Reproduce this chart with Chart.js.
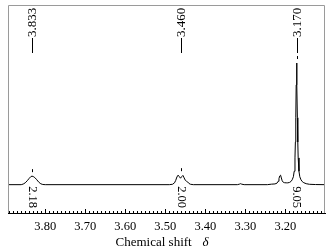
<!DOCTYPE html>
<html>
<head>
<meta charset="utf-8">
<script src="https://cdn.jsdelivr.net/npm/chart.js@4"></script>
<style>
  html, body { margin: 0; padding: 0; background: #fff; }
  #wrap { width: 332px; height: 251px; }
</style>
</head>
<body>
<div id="wrap"><canvas id="nmrChart" width="332" height="251"></canvas></div>
<script>
// spectrum (shift in ppm, intensity relative to main peak = 100)
const shifts = [
    3.893, 3.860, 3.855, 3.850, 3.845, 3.840, 3.836, 3.833, 3.830, 3.826, 3.821, 3.816, 3.811, 3.806, 3.800,
    3.490, 3.482, 3.477, 3.474, 3.471, 3.468, 3.465, 3.462, 3.459, 3.456, 3.453, 3.450, 3.447, 3.444, 3.441, 3.437, 3.430,
    3.320, 3.315, 3.312, 3.309, 3.303,
    3.245, 3.235, 3.226, 3.221, 3.218, 3.216, 3.214, 3.212, 3.210, 3.208, 3.205, 3.202, 3.198, 3.194,
    3.190, 3.186, 3.183, 3.180, 3.178, 3.176, 3.175, 3.174, 3.173, 3.172, 3.171, 3.170, 3.169, 3.168, 3.166,
    3.164, 3.161, 3.158, 3.154, 3.148, 3.140, 3.125, 3.101
];
const intensities = [
    0, 0, 0.5, 1.5, 3.2, 5.2, 6.6, 7, 6.7, 5.8, 4, 2, 0.7, 0.15, 0,
    0, 0.3, 1.5, 3.5, 6.3, 7.8, 6.6, 5.3, 6.6, 7.6, 5.6, 3.6, 2.8, 2.2, 1.0, 0.3, 0,
    0, 0.4, 0.8, 0.4, 0,
    0, 0.4, 0.6, 1.2, 2.8, 5, 7.2, 7.8, 5.5, 3.2, 1.9, 1.6, 1.5, 1.5,
    1.8, 2.6, 4, 6.5, 11, 22, 35, 55, 82, 100, 82, 55, 35, 22, 11,
    6.5, 4, 2.6, 1.6, 0.8, 0.3, 0.1, 0
];

// peak picking labels (top) and integrals (under the peaks)
const peakLabels = [3.833, 3.460, 3.170];
const peakTops = [7, 7.8, 100];
const integralAt = [3.833, 3.459, 3.172];
const integralValues = ['2.18', '2.00', '9.05'];

// x axis
const tickValues = [3.80, 3.70, 3.60, 3.50, 3.40, 3.30, 3.20];
const xMin = 3.101, xMax = 3.893;

const serif = '"Liberation Serif", "DejaVu Serif", serif';

const spectrumData = shifts.map((s, i) => ({ x: s, y: intensities[i] }));

const nmrDecor = {
    id: 'nmrDecor',
    afterDraw(chart) {
        const ctx = chart.ctx;
        const area = chart.chartArea;
        const xs = chart.scales.x;
        const ys = chart.scales.y;
        ctx.save();

        // grey frame left / top / right
        ctx.strokeStyle = '#9a9a9a';
        ctx.lineWidth = 1;
        ctx.beginPath();
        ctx.moveTo(area.left + 0.5, area.bottom);
        ctx.lineTo(area.left + 0.5, area.top + 0.5);
        ctx.lineTo(area.right - 0.5, area.top + 0.5);
        ctx.lineTo(area.right - 0.5, area.bottom);
        ctx.stroke();

        // inward ticks on the bottom axis
        ctx.strokeStyle = '#000';
        ctx.beginPath();
        for (let k = 311; k <= 389; k++) {
            const v = k / 100;
            const px = Math.round(xs.getPixelForValue(v)) + 0.5;
            const len = (k % 10 === 0) ? 4 : 2;
            ctx.moveTo(px, area.bottom);
            ctx.lineTo(px, area.bottom - len);
        }
        ctx.stroke();

        // peak labels at top
        ctx.fillStyle = '#000';
        ctx.font = '13px ' + serif;
        peakLabels.forEach((v, i) => {
            const px = Math.round(xs.getPixelForValue(v)) + 0.5;
            ctx.beginPath();
            ctx.moveTo(px, 38);
            ctx.lineTo(px, 53);
            const yTop = ys.getPixelForValue(peakTops[i]);
            ctx.moveTo(px, yTop - 7);
            ctx.lineTo(px, yTop - 4);
            ctx.stroke();
            ctx.save();
            ctx.translate(px, 37);
            ctx.rotate(-Math.PI / 2);
            ctx.textAlign = 'left';
            ctx.textBaseline = 'middle';
            ctx.fillText(v.toFixed(3), 0, 0);
            ctx.restore();
        });

        // integrals under peaks
        ctx.font = '12.5px ' + serif;
        integralAt.forEach((v, i) => {
            const px = xs.getPixelForValue(v);
            ctx.save();
            ctx.translate(px, ys.getPixelForValue(0) + 1.5);
            ctx.rotate(Math.PI / 2);
            ctx.textAlign = 'left';
            ctx.textBaseline = 'middle';
            ctx.fillText(integralValues[i], 0, 0);
            ctx.restore();
        });

        // axis title
        const cx = (area.left + area.right) / 2;
        ctx.font = '13px ' + serif;
        ctx.textBaseline = 'middle';
        ctx.textAlign = 'left';
        ctx.fillText('Chemical shift', cx - 51, 243);
        ctx.font = 'italic 13px ' + serif;
        ctx.textAlign = 'center';
        ctx.fillText('δ', cx + 39, 243);

        ctx.restore();
    }
};

const ctx = document.getElementById('nmrChart').getContext('2d');
new Chart(ctx, {
    type: 'line',
    data: {
        datasets: [{
            data: spectrumData,
            borderColor: '#000',
            borderWidth: 1,
            pointRadius: 0,
            tension: 0,
            fill: false
        }]
    },
    options: {
        responsive: false,
        animation: false,
        layout: { padding: { left: 8, top: 5, right: 7, bottom: 0 } },
        plugins: {
            legend: { display: false },
            title: { display: false },
            tooltip: { enabled: false }
        },
        scales: {
            x: {
                type: 'linear',
                reverse: true,
                min: xMin,
                max: xMax,
                afterBuildTicks: (scale) => {
                    scale.ticks = tickValues.map(v => ({ value: v }));
                },
                afterFit: (scale) => { scale.height = 38; },
                grid: { drawOnChartArea: false, drawTicks: false },
                border: { display: true, color: '#000', width: 1 },
                ticks: {
                    color: '#000',
                    padding: 6,
                    maxRotation: 0,
                    autoSkip: false,
                    font: { family: serif, size: 12.5 },
                    callback: (v) => Number(v).toFixed(2)
                }
            },
            y: {
                display: false,
                min: -23.3,
                max: 147.7
            }
        }
    },
    plugins: [nmrDecor]
});
</script>
</body>
</html>
